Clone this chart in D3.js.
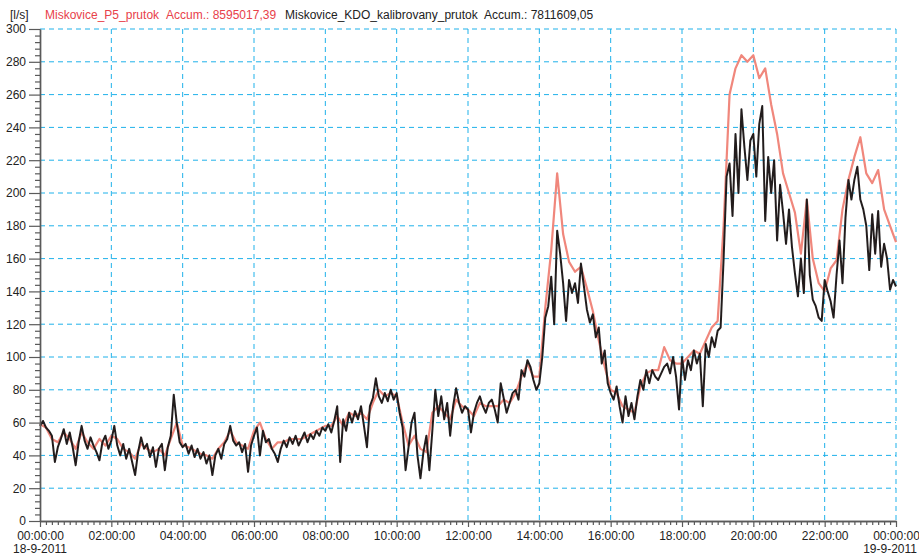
<!DOCTYPE html>
<html>
<head>
<meta charset="utf-8">
<script src="https://cdn.jsdelivr.net/npm/d3@7"></script>
<style>
  body { margin: 0; background: #fff; }
  svg { display: block; font-family: "Liberation Sans", Arial, Helvetica, sans-serif; }
</style>
</head>
<body>
<svg id="chart" width="919" height="558"></svg>
<script>
// Units and legend entries
const unitLabel = "[l/s]";
const seriesNames = ["Miskovice_P5_prutok", "Miskovice_KDO_kalibrovany_prutok"];
const seriesAccum = ["Accum.: 8595017,39", "Accum.: 7811609,05"];
const dateLabels = ["18-9-2011", "19-9-2011"];

// Time span shown (UTC clock used purely for labelling)
const periodStart = "2011-09-18T00:00:00Z";
const periodEnd = "2011-09-19T00:00:00Z";

// Miskovice_P5_prutok, one value every 10 minutes [l/s]
const p5StepMinutes = 10;
const p5Flow = [
  59, 57, 50, 48, 54, 50,
  44, 54, 48, 44, 50, 46,
  52, 50, 44, 42, 38, 47,
  44, 42, 44, 40, 50, 60,
  46, 45, 43, 41, 40, 38,
  44, 48, 55, 48, 46, 44,
  55, 60, 50, 44, 48, 48,
  50, 50, 50, 52, 54, 56,
  58, 58, 64, 58, 66, 64,
  66, 62, 72, 80, 76, 78,
  76, 60, 46, 52, 44, 42,
  66, 70, 66, 62, 74, 70,
  68, 64, 72, 70, 70, 70,
  74, 72, 78, 88, 96, 88,
  88, 130, 165, 212, 175, 158,
  152, 155, 142, 128, 110, 94,
  80, 78, 70, 68, 66, 82,
  90, 92, 92, 106, 98, 96,
  96, 100, 104, 102, 110, 118,
  122, 180, 260, 276, 284, 280,
  284, 270, 276, 254, 236, 212,
  200, 188, 163, 196, 160, 145,
  140, 154, 159, 190, 208, 222,
  234, 212, 206, 214, 190, 180,
  170
];

// Miskovice_KDO_kalibrovany_prutok, one value every 5 minutes [l/s]
const kdoStepMinutes = 5;
const kdoFlow = [
  58, 61, 57, 55, 52, 36, 45, 50, 56, 47, 54, 45,
  34, 48, 58, 49, 44, 51, 46, 42, 37, 48, 52, 44,
  49, 58, 46, 40, 47, 38, 44, 36, 28, 42, 51, 44,
  47, 39, 45, 33, 44, 47, 31, 45, 52, 77, 60, 48,
  45, 47, 41, 46, 39, 44, 38, 42, 35, 40, 28, 40,
  44, 38, 47, 50, 58, 49, 46, 48, 42, 47, 30, 46,
  52, 57, 40, 55, 48, 50, 44, 41, 36, 44, 49, 45,
  51, 47, 52, 46, 50, 54, 48, 53, 50, 55, 52, 57,
  55, 59, 54, 61, 70, 36, 62, 55, 66, 60, 67, 62,
  70, 58, 45, 70, 75, 87, 76, 72, 78, 73, 80, 74,
  78, 66, 57, 31, 45, 60, 66, 40, 26, 42, 52, 31,
  55, 80, 64, 76, 62, 72, 52, 70, 81, 72, 66, 70,
  68, 54, 66, 72, 76, 70, 66, 72, 74, 68, 60, 84,
  75, 66, 72, 78, 80, 74, 92, 88, 98, 94, 86, 80,
  84, 100, 124, 131, 149, 120, 177, 163, 145, 122, 147, 139,
  145, 133, 157, 143, 129, 121, 126, 112, 118, 96, 104, 84,
  78, 74, 82, 70, 60, 76, 64, 72, 62, 76, 86, 80,
  92, 84, 92, 88, 86, 90, 94, 96, 90, 100, 88, 68,
  100, 86, 98, 92, 104, 96, 102, 70, 108, 100, 112, 106,
  116, 118, 160, 210, 218, 186, 236, 200, 251, 228, 208, 232,
  236, 210, 242, 253, 183, 222, 200, 220, 171, 205, 188, 169,
  190, 167, 151, 137, 160, 139, 196, 150, 135, 131, 124, 122,
  147, 140, 134, 124, 150, 171, 145, 185, 208, 196, 208, 216,
  196, 190, 180, 153, 187, 163, 189, 155, 169, 160, 141, 147,
  143
];

// Axis ticks
const yMajorTicks = [0, 20, 40, 60, 80, 100, 120, 140, 160, 180, 200, 220, 240, 260, 280, 300];
const yMinorStep = 4;
const xMajorHours = [0, 2, 4, 6, 8, 10, 12, 14, 16, 18, 20, 22, 24];
const xMinorMinutes = 10;

// ---------------------------------------------------------------
const svg = d3.select("#chart");
const plotLeft = 40, plotRight = 896, plotTop = 29, plotBottom = 521;

const t0 = new Date(periodStart), t1 = new Date(periodEnd);
const x = d3.scaleUtc().domain([t0, t1]).range([plotLeft, plotRight]);
const y = d3.scaleLinear().domain([0, 300]).range([plotBottom, plotTop]);

const toSeries = (vals, step) => vals.map((v, i) => ({ t: d3.utcMinute.offset(t0, i * step), v }));
const p5 = toSeries(p5Flow, p5StepMinutes);
const kdo = toSeries(kdoFlow, kdoStepMinutes);

const gridColor = "#1fb1ea";
const axisColor = "#5a5a5a";
const textColor = "#222";

// Dashed grid
const majorTimes = xMajorHours.map(h => d3.utcHour.offset(t0, h));
svg.append("g").selectAll("line").data(yMajorTicks.filter(d => d > 0)).join("line")
  .attr("x1", plotLeft).attr("x2", plotRight)
  .attr("y1", d => y(d)).attr("y2", d => y(d))
  .attr("stroke", gridColor).attr("stroke-width", 1).attr("stroke-dasharray", "5,4");
svg.append("g").selectAll("line").data(majorTimes.slice(1)).join("line")
  .attr("x1", d => x(d)).attr("x2", d => x(d))
  .attr("y1", plotTop).attr("y2", plotBottom)
  .attr("stroke", gridColor).attr("stroke-width", 1).attr("stroke-dasharray", "5,4");

// Data lines
const line = d3.line().x(d => x(d.t)).y(d => y(d.v));
const defs = svg.append("defs");
defs.append("filter").attr("id", "soft")
  .append("feGaussianBlur").attr("stdDeviation", 0.6);

svg.append("path").datum(p5).attr("d", line)
  .attr("fill", "none").attr("stroke", "#f0877c").attr("stroke-width", 2.2)
  .attr("stroke-linejoin", "round").attr("filter", "url(#soft)");
svg.append("path").datum(kdo).attr("d", line)
  .attr("fill", "none").attr("stroke", "#241f1f").attr("stroke-width", 2)
  .attr("stroke-linejoin", "round").attr("filter", "url(#soft)");

// Y axis: major and minor ticks
const yMinor = d3.range(0, 301, yMinorStep).filter(v => !yMajorTicks.includes(v));
const yAxisMinor = svg.append("g").attr("transform", `translate(${plotLeft},0)`)
  .call(d3.axisLeft(y).tickValues(yMinor).tickSize(5).tickSizeOuter(0).tickFormat(""));
const yAxis = svg.append("g").attr("transform", `translate(${plotLeft},0)`)
  .call(d3.axisLeft(y).tickValues(yMajorTicks).tickSize(11).tickSizeOuter(0).tickPadding(3));

// X axis: major and minor ticks
const xMinor = d3.utcMinute.every(xMinorMinutes).range(t0, d3.utcMinute.offset(t1, 1))
  .filter(d => d.getUTCMinutes() !== 0 || d.getUTCHours() % 2 !== 0);
const xAxisMinor = svg.append("g").attr("transform", `translate(0,${plotBottom})`)
  .call(d3.axisBottom(x).tickValues(xMinor).tickSize(4).tickSizeOuter(0).tickFormat(""));
const xAxis = svg.append("g").attr("transform", `translate(0,${plotBottom})`)
  .call(d3.axisBottom(x).tickValues(majorTimes).tickSize(6).tickSizeOuter(0)
    .tickPadding(4).tickFormat(d3.utcFormat("%H:%M:%S")));

[yAxisMinor, yAxis, xAxisMinor, xAxis].forEach(g => {
  g.select(".domain").attr("stroke", axisColor).attr("stroke-width", 1.4);
  g.selectAll(".tick line").attr("stroke", axisColor).attr("stroke-width", 1.2);
  g.selectAll("text").attr("font-size", 12).attr("fill", textColor)
    .attr("font-family", '"Liberation Sans", Arial, sans-serif');
});

// Date labels under the first and last time ticks
svg.append("text").attr("x", x(t0)).attr("y", 553).attr("text-anchor", "middle")
  .attr("font-size", 12).attr("fill", textColor).text(dateLabels[0]);
svg.append("text").attr("x", 917).attr("y", 553).attr("text-anchor", "end")
  .attr("font-size", 12).attr("fill", textColor).text(dateLabels[1]);

// Header with units and series legend
const header = svg.append("text").attr("x", 10).attr("y", 18.5).attr("font-size", 12);
header.append("tspan").attr("fill", textColor).text(unitLabel);
header.append("tspan").attr("x", 45).attr("fill", "#e8414a").text(seriesNames[0]);
header.append("tspan").attr("x", 166).attr("fill", "#e8414a").text(seriesAccum[0]);
header.append("tspan").attr("x", 285).attr("fill", textColor).text(seriesNames[1]);
header.append("tspan").attr("x", 484).attr("fill", textColor).text(seriesAccum[1]);
</script>
</body>
</html>
